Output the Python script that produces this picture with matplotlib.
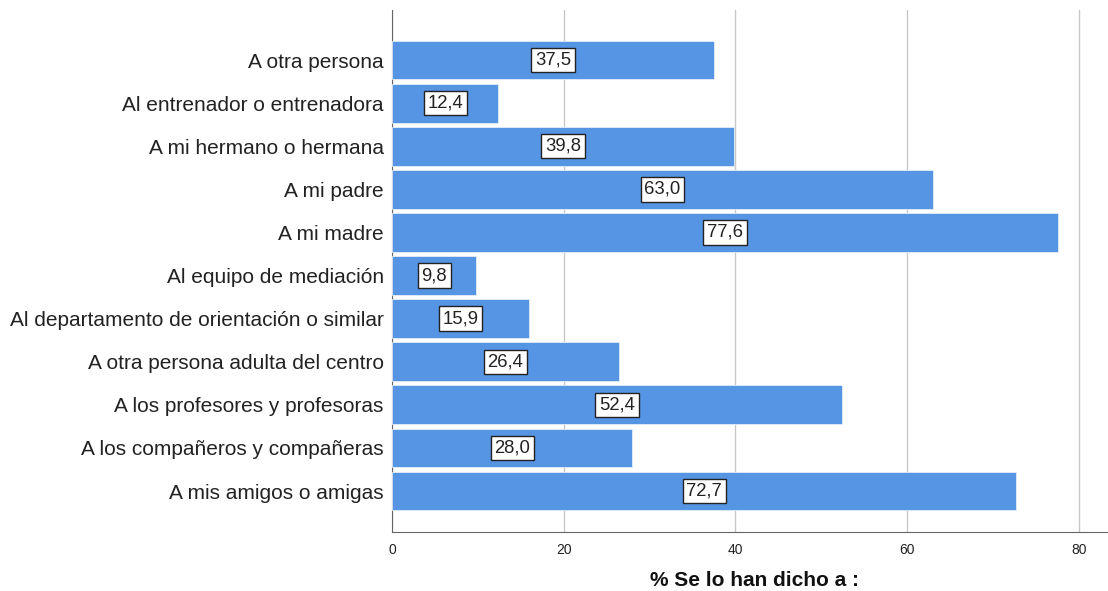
import matplotlib.pyplot as plt

categories = [
    'A otra persona',
    'Al entrenador o entrenadora',
    'A mi hermano o hermana',
    'A mi padre',
    'A mi madre',
    'Al equipo de mediación',
    'Al departamento de orientación o similar',
    'A otra persona adulta del centro',
    'A los profesores y profesoras',
    'A los compañeros y compañeras',
    'A mis amigos o amigas',
]
values = [37.5, 12.4, 39.8, 63.0, 77.6, 9.8, 15.9, 26.4, 52.4, 28.0, 72.7]
xticks = [0, 20, 40, 60, 80]

plt.rcParams['font.family'] = ['Liberation Sans', 'DejaVu Sans']

fig = plt.figure(figsize=(11.08, 5.91), dpi=100)
ax = fig.add_axes([392/1108, 59/591, 1 - 392/1108, 522/591])

n = len(categories)
ypos = list(range(n - 1, -1, -1))
ax.barh(ypos, values, height=0.9, color='#5694e4', edgecolor='#e3ecf8', linewidth=0.6, zorder=3)

# value labels in white boxes, centred on each bar
for y, v in zip(ypos, values):
    ax.text(v / 2, y, f'{v:.1f}'.replace('.', ','), ha='center', va='center', fontsize=13.3,
            color='#222222', zorder=4,
            bbox=dict(boxstyle='square,pad=0.2', fc='white', ec='#222222', lw=1.0))

ax.set_yticks(ypos)
ax.set_yticklabels(categories, fontsize=15, color='#222222')
ax.set_xticks(xticks)
ax.set_xticklabels([str(t) for t in xticks], fontsize=10, color='#222222',
                   family=['Liberation Sans Narrow', 'Liberation Sans', 'DejaVu Sans'])
ax.tick_params(axis='y', length=0, pad=6)
ax.tick_params(axis='x', length=0, pad=8)
ax.set_xlim(0, 83.4)
ax.set_ylim(-0.95, n - 1 + 1.16)

ax.grid(axis='x', color='#c8c8c8', linewidth=1.0, zorder=0)
for s in ['top', 'right']:
    ax.spines[s].set_visible(False)
ax.spines['left'].set_color('#666666')
ax.spines['bottom'].set_color('#666666')

ax.set_xlabel('% Se lo han dicho a :', fontsize=15, fontweight='bold', color='#111111')
ax.xaxis.label.set_verticalalignment('center')
ax.xaxis.set_label_coords((754 - 392) / (1108 - 392), -(580 - 532) / 522)

plt.savefig('out.png', dpi=100)
